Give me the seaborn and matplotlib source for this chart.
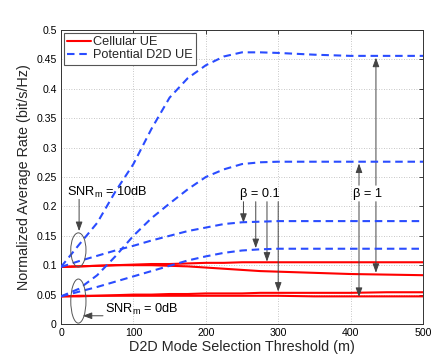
import matplotlib
matplotlib.use("Agg")
import matplotlib.pyplot as plt
import numpy as np
import pandas as pd
import seaborn as sns
from matplotlib.patches import Ellipse
from matplotlib.lines import Line2D

# ---------------- data ----------------
thresholds = [0, 25, 50, 75, 100, 125, 150, 175, 200, 225, 250, 275, 300, 350, 400, 450, 500]

# Potential D2D UE
d2d_10db_beta1 = [0.097, 0.135, 0.172, 0.225, 0.272, 0.332, 0.385, 0.418, 0.440, 0.455, 0.462,
                  0.462, 0.461, 0.458, 0.456, 0.456, 0.456]
d2d_0db_beta1 = [0.047, 0.060, 0.083, 0.115, 0.150, 0.180, 0.205, 0.229, 0.250, 0.263, 0.272,
                 0.275, 0.276, 0.276, 0.276, 0.276, 0.276]
d2d_10db_beta01 = [0.097, 0.107, 0.116, 0.125, 0.133, 0.142, 0.150, 0.158, 0.164, 0.170, 0.173,
                   0.174, 0.175, 0.175, 0.175, 0.175, 0.175]
d2d_0db_beta01 = [0.047, 0.055, 0.063, 0.072, 0.081, 0.090, 0.099, 0.108, 0.115, 0.121, 0.125,
                  0.127, 0.128, 0.128, 0.128, 0.128, 0.128]

# Cellular UE
cell_10db_beta01 = [0.097, 0.098, 0.099, 0.100, 0.101, 0.102, 0.102, 0.103, 0.104, 0.104, 0.105,
                    0.105, 0.105, 0.105, 0.105, 0.105, 0.105]
cell_10db_beta1 = [0.097, 0.098, 0.099, 0.100, 0.100, 0.100, 0.099, 0.098, 0.096, 0.094, 0.092,
                   0.090, 0.089, 0.087, 0.085, 0.084, 0.083]
cell_0db_beta01 = [0.047, 0.048, 0.048, 0.049, 0.050, 0.050, 0.051, 0.051, 0.052, 0.052, 0.052,
                   0.053, 0.053, 0.053, 0.053, 0.054, 0.054]
cell_0db_beta1 = [0.047, 0.047, 0.048, 0.048, 0.048, 0.048, 0.048, 0.048, 0.048, 0.048, 0.048,
                  0.048, 0.048, 0.047, 0.047, 0.047, 0.047]

legend_labels = ["Cellular UE", "Potential D2D UE"]
x_ticks = [0, 100, 200, 300, 400, 500]
y_ticks = [0, 0.05, 0.1, 0.15, 0.2, 0.25, 0.3, 0.35, 0.4, 0.45, 0.5]
y_tick_labels = ["0", "0.05", "0.1", "0.15", "0.2", "0.25", "0.3", "0.35", "0.4", "0.45", "0.5"]

series = {
    "cell_10_b01": ("Cellular UE", cell_10db_beta01),
    "cell_10_b1": ("Cellular UE", cell_10db_beta1),
    "cell_0_b01": ("Cellular UE", cell_0db_beta01),
    "cell_0_b1": ("Cellular UE", cell_0db_beta1),
    "d2d_10_b1": ("Potential D2D UE", d2d_10db_beta1),
    "d2d_0_b1": ("Potential D2D UE", d2d_0db_beta1),
    "d2d_10_b01": ("Potential D2D UE", d2d_10db_beta01),
    "d2d_0_b01": ("Potential D2D UE", d2d_0db_beta01),
}
rows = []
for name, (kind, vals) in series.items():
    for t, v in zip(thresholds, vals):
        rows.append({"curve": name, "kind": kind, "threshold": t, "rate": v})
df = pd.DataFrame(rows)

# ---------------- style ----------------
sns.set_theme(style="white")
plt.rcParams["font.family"] = ["Liberation Sans", "DejaVu Sans"]
plt.rcParams["mathtext.fontset"] = "custom"
plt.rcParams["mathtext.rm"] = "Liberation Sans"
plt.rcParams["mathtext.it"] = "Liberation Sans:italic"

RED = "#ff0000"
BLUE = "#2a4cff"

fig = plt.figure(figsize=(4.36, 3.57), dpi=100)
fig.patch.set_facecolor("white")
ax = fig.add_axes([61 / 436, 33 / 357, 362 / 436, 294 / 357])

for name, (kind, vals) in series.items():
    sub = df[df["curve"] == name]
    if kind == "Cellular UE":
        sns.lineplot(data=sub, x="threshold", y="rate", color=RED, lw=1.5,
                     legend=False, ax=ax, zorder=3)
    else:
        sns.lineplot(data=sub, x="threshold", y="rate", color=BLUE, lw=1.5,
                     linestyle=(0, (3.6, 2.3)), legend=False, ax=ax, zorder=4)

ax.set_xlim(0, 500)
ax.set_ylim(0, 0.5)
ax.set_xticks(x_ticks)
ax.set_yticks(y_ticks)
ax.set_yticklabels(y_tick_labels)
ax.tick_params(axis="both", direction="in", length=3, width=0.6, labelsize=7.6,
               top=True, right=True, pad=3, colors="#222222", labelcolor="black")
ax.grid(True, linestyle=(0, (1, 2)), color="#b5b5b5", lw=0.6)
for s in ax.spines.values():
    s.set_color("#333333")
    s.set_linewidth(0.7)
ax.set_xlabel("D2D Mode Selection Threshold (m)", fontsize=10.4, labelpad=1)
ax.set_ylabel("Normalized Average Rate (bit/s/Hz)", fontsize=10.4, labelpad=4)

# legend
handles = [Line2D([], [], color=RED, lw=1.5),
           Line2D([], [], color=BLUE, lw=1.5, linestyle=(0, (3.6, 2.3)))]
leg = ax.legend(handles, legend_labels, loc="upper left", bbox_to_anchor=(0.008, 0.99),
                borderaxespad=0, fontsize=9.2, handlelength=1.85, handletextpad=0.15,
                borderpad=0.25, labelspacing=0.1, fancybox=False, framealpha=1)
leg.get_frame().set_edgecolor("#555555")
leg.get_frame().set_linewidth(0.8)

# ellipses
ell_kw = dict(fill=False, edgecolor="#555555", lw=0.7, zorder=5)
ax.add_patch(Ellipse((24, 0.126), 21, 0.058, **ell_kw))
ax.add_patch(Ellipse((24, 0.039), 21, 0.075, **ell_kw))

arrow_kw = dict(arrowstyle="-|>,head_length=0.55,head_width=0.2", color="#444444",
                lw=0.7, shrinkA=0, shrinkB=0, mutation_scale=10)
txt_kw = dict(fontsize=9.2, color="black")

ax.text(8, 0.223, r"SNR$_{\mathrm{m}}$ = 10dB", ha="left", va="center", **txt_kw)
ax.annotate("", xy=(25, 0.158), xytext=(25, 0.212), arrowprops=arrow_kw)
ax.text(61, 0.024, r"SNR$_{\mathrm{m}}$ = 0dB", ha="left", va="center", **txt_kw)
ax.annotate("", xy=(30, 0.014), xytext=(58, 0.014), arrowprops=arrow_kw)

ax.text(275, 0.221, "β = 0.1", ha="center", va="center", **txt_kw)
for xa, ytip in [(252, 0.172), (269, 0.129), (284.5, 0.106), (300, 0.055)]:
    ax.annotate("", xy=(xa, ytip), xytext=(xa, 0.208), arrowprops=arrow_kw)

ax.text(423, 0.221, "β = 1", ha="center", va="center", **txt_kw)
for xa, ytip in [(411.6, 0.046), (435, 0.087)]:
    ax.annotate("", xy=(xa, ytip), xytext=(xa, 0.208), arrowprops=arrow_kw)
for xa, ytip in [(411.6, 0.273), (435, 0.453)]:
    ax.annotate("", xy=(xa, ytip), xytext=(xa, 0.236), arrowprops=arrow_kw)

fig.savefig("out.png", dpi=100, facecolor="white")
